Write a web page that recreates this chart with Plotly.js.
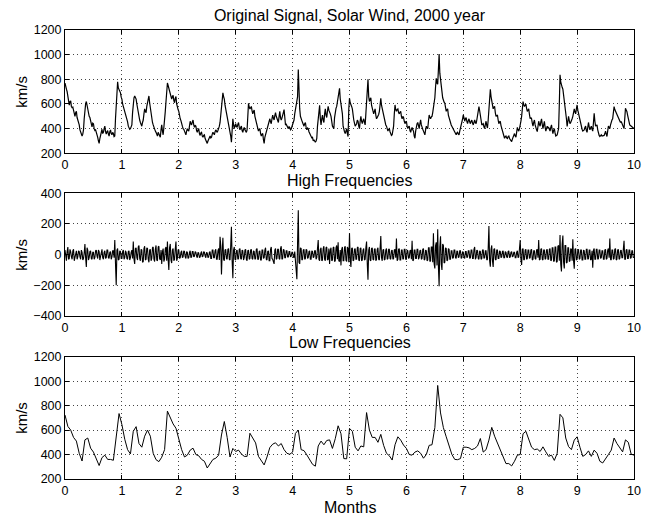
<!DOCTYPE html>
<html><head><meta charset="utf-8">
<script src="https://cdn.plot.ly/plotly-3.0.1.min.js"></script>
<style>html,body{margin:0;padding:0;background:#fff;}#chart{width:667px;height:520px;}</style>
</head><body><div id="chart"></div>
<script>
// ---- data (months on x, km/s on y) ----
const startMonth = 0;
const originalStep = 0.0125;   // months between samples
const originalValues = [
770,730,720,700,660,610,590,620,625,580,570,575,555,520,500,530,540,490,470,460,
430,390,375,365,340,355,390,480,560,600,620,580,560,520,500,490,470,430,415,445,
440,400,385,390,375,345,330,300,280,320,350,380,395,360,370,400,420,375,355,375,
385,355,340,375,390,360,350,370,360,335,340,480,620,740,780,730,720,700,690,655,
640,600,580,570,545,510,490,480,455,420,410,395,400,410,430,530,610,650,665,650,
640,600,560,540,510,470,450,440,420,450,470,520,560,540,530,580,620,650,665,610,
570,500,470,450,430,405,390,380,370,350,340,370,360,345,330,390,430,380,350,410,
460,540,620,720,770,750,730,700,690,660,640,660,670,630,610,645,660,600,560,555,
540,500,480,465,450,420,400,395,380,365,350,380,400,385,380,420,460,440,430,455,
470,430,410,425,420,385,370,390,400,360,345,365,370,340,330,345,350,320,300,290,
280,300,310,330,340,325,330,355,370,360,350,375,390,380,370,385,400,420,450,520,
590,650,690,660,640,590,560,545,520,470,430,420,400,340,290,420,480,430,400,425,
440,420,410,435,450,410,390,410,420,385,370,395,410,390,380,370,390,520,605,575,
560,570,580,545,520,540,550,500,480,450,430,400,380,395,400,360,340,355,360,310,
280,330,350,380,400,420,440,470,480,455,440,480,510,485,470,505,530,500,480,465,
450,500,540,490,470,485,500,530,555,470,430,435,420,410,400,415,410,390,395,415,
430,455,470,520,560,590,600,660,880,620,560,500,470,465,450,430,420,440,450,410,
390,405,400,375,360,350,340,325,330,300,310,295,290,300,320,420,480,560,590,480,
430,480,510,470,450,520,560,510,490,540,580,550,540,520,500,450,420,410,400,490,
540,565,580,620,660,700,727,640,600,560,520,420,380,375,360,385,400,360,336,560,
646,610,600,580,560,500,470,445,420,430,440,470,460,420,400,460,500,460,440,465,
480,450,430,520,600,700,800,660,620,640,650,590,560,540,520,540,560,510,480,490,
500,515,540,600,646,590,560,520,500,465,440,430,420,395,380,395,400,375,360,345,
350,380,420,520,592,555,540,555,560,530,520,535,540,500,480,500,490,460,440,455,
460,420,400,415,420,385,370,395,410,390,380,340,322,380,420,440,450,415,400,440,
471,430,400,395,380,360,350,390,420,405,400,460,511,490,480,495,500,530,560,600,
650,740,808,770,760,880,1005,850,781,730,700,650,620,615,606,560,540,555,560,510,
480,465,450,430,420,400,390,385,380,360,350,365,370,355,350,380,400,420,440,480,
511,480,460,480,490,460,440,465,480,455,440,460,470,445,430,450,470,450,440,470,
500,540,579,545,520,470,430,440,440,415,400,435,460,425,405,470,540,640,719,660,
620,585,560,575,580,530,500,505,510,470,440,455,460,425,400,380,360,335,322,335,
340,325,320,335,340,320,310,300,295,315,330,350,360,340,330,370,410,390,380,400,
420,460,500,570,619,595,580,590,600,565,540,550,560,515,480,490,480,445,420,450,
470,430,400,390,376,420,460,435,420,455,480,435,400,430,460,415,380,400,420,405,
410,395,380,410,430,390,360,385,400,365,341,345,350,375,400,600,836,780,741,735,
720,680,640,600,560,480,417,460,500,465,440,450,460,480,500,530,560,535,520,560,
592,550,520,500,470,440,420,395,380,385,390,410,420,385,370,410,450,415,390,405,
420,395,380,450,525,460,420,425,430,390,360,345,336,345,350,340,340,340,345,360,
380,355,336,380,420,410,400,430,460,470,480,530,579,555,540,525,510,495,480,465,
450,450,458,440,420,410,400,480,565,550,540,510,480,455,430,425,420,410,403,400,
400];

const highStep = 0.0125;
const highValues = [
30,-10,-40,20,50,-30,-25,35,20,-15,-30,25,35,-40,-20,15,25,-30,-15,25,
20,-15,-30,30,15,-35,-25,10,70,-20,-80,45,30,-35,-20,20,25,-25,-30,15,
15,-30,-20,25,30,-10,-25,30,20,-35,-15,20,35,-20,-30,15,25,-25,-20,30,
30,-20,-25,15,20,-30,-15,25,25,-20,95,-60,-200,30,40,-35,-30,25,20,-25,
-25,20,30,-30,-20,25,15,-25,-30,20,25,-35,-20,15,30,-25,85,-30,-60,40,
45,-20,-35,50,60,-25,-40,35,30,-50,-45,40,55,-35,-30,45,40,-30,-50,30,
35,-40,-25,45,50,-30,-45,35,60,-35,-40,50,55,-25,-35,30,-60,20,40,-45,
-30,40,50,-40,85,-30,-100,45,70,-35,-55,30,40,-40,-30,35,85,-40,-25,30,
30,-25,-20,15,25,-20,-15,25,20,-15,-25,20,15,-25,-20,15,25,-20,-15,20,
20,-15,-10,20,15,-10,-20,15,10,-20,-15,10,20,-15,-10,20,15,-10,-20,15,
10,-20,-15,15,20,-25,-25,30,30,-20,-20,25,35,-30,-30,25,40,-35,117,60,
-130,20,110,-30,-40,30,35,-25,-30,35,40,-30,-35,60,182,-40,-154,30,50,-30,
-35,25,30,-30,-25,35,40,-25,-30,30,25,-35,-20,30,35,-30,-40,25,30,-30,
-25,30,35,-25,-30,25,20,-30,-25,35,40,-30,-30,20,25,-35,-35,30,30,-25,
-20,30,45,-30,-35,20,25,-40,-40,35,50,-25,-30,-45,-60,30,40,-30,-25,35,
35,-25,-30,40,55,-30,-25,35,30,-20,-20,25,25,-15,-15,20,20,-15,-10,15,
15,-15,-20,20,-40,-60,-160,80,290,-50,-60,45,40,-35,-30,30,35,-30,-25,35,
30,-25,-20,20,25,-30,-30,25,20,-20,-15,25,25,-30,-20,40,95,-30,-40,35,
45,-40,-35,40,55,-30,-40,45,50,-35,-30,40,-60,30,45,-40,-35,45,50,-45,
-40,45,60,-30,80,-40,-45,30,-70,35,50,-40,-40,45,55,-35,-45,50,40,-50,
140,-30,-80,40,45,-40,-35,35,40,-30,-30,45,50,-35,-40,40,45,-40,-35,30,
40,-35,-30,45,85,-60,-163,30,50,-35,-40,40,45,-30,-35,35,40,-40,-30,35,
45,-30,-35,40,122,-20,-40,30,35,-35,-30,30,40,-30,-25,35,35,-25,-30,25,
30,-30,-25,30,35,-20,106,-40,-30,35,40,-35,-35,30,30,-30,-25,35,35,-30,
-30,30,25,-25,-20,25,30,-30,91,-40,-35,30,30,-25,-25,35,35,-30,-20,25,
30,-30,-25,35,40,-35,-30,30,25,-40,-35,45,45,-45,-40,50,50,-50,140,-60,
-90,60,80,-70,165,-80,-206,50,120,-60,-100,70,60,-55,-50,45,40,-40,-35,40,
35,-30,-30,25,25,-25,-20,30,30,-20,-25,25,20,-20,-15,25,25,-25,-20,20,
15,-20,-25,20,20,-20,-15,25,25,-25,-20,30,30,-25,-25,35,50,-30,-20,30,
25,-25,-30,25,20,-30,-25,30,30,-25,-20,25,25,-35,-30,40,187,-40,-78,35,
60,-40,-80,35,40,-30,-35,30,30,-25,-25,25,20,-20,-15,20,25,-20,-20,20,
15,-15,-20,20,25,-20,-15,15,20,-15,-10,15,15,-20,-20,15,25,-20,-15,40,
95,-30,-67,35,40,-35,-30,30,35,-30,-25,30,30,-25,-20,30,35,-35,-30,25,
25,-25,-30,30,35,-20,95,-35,-30,35,40,-30,-35,30,30,-30,-25,30,35,-30,
-30,35,40,-40,-35,45,45,-45,-40,50,50,-50,-45,55,60,-40,128,-60,-110,70,
125,-50,-90,60,60,-55,-50,45,45,-45,-40,40,35,-40,100,-40,-91,35,40,-35,
-30,30,35,-30,-25,30,30,-35,-35,30,25,-30,-30,35,35,-30,-25,30,30,-35,
-30,25,-85,30,40,-30,-30,35,35,-30,-25,30,30,-25,-20,25,25,-30,-30,30,
35,-30,-25,30,40,-20,106,-30,-35,30,30,-30,-25,35,40,-35,-30,30,35,-30,
-25,25,30,-20,-20,35,91,-30,-30,30,35,-25,-25,30,30,-25,-20,25,25,-20,
-15];

const lowStep = 0.05;
const lowValues = [
723,630,600,540,510,410,347,520,535,452,
420,360,310,375,395,360,360,353,570,735,
645,525,440,405,590,628,490,460,550,600,
550,410,358,342,378,440,755,705,650,615,
530,440,380,395,436,452,400,390,360,345,
290,326,360,370,395,560,670,540,380,450,
425,436,405,385,385,574,535,495,385,350,
315,380,457,485,496,470,490,440,410,402,
420,573,600,440,432,397,362,320,305,470,
510,480,515,520,450,530,635,570,367,365,
614,590,460,430,470,463,743,600,540,540,
500,565,475,410,390,355,480,545,518,477,
450,400,395,420,430,410,370,400,475,480,
620,965,740,620,545,470,400,360,358,367,
460,460,455,440,450,470,531,420,440,518,
622,550,490,430,375,326,326,307,345,395,
400,570,590,525,460,440,445,425,463,422,
385,395,352,410,729,700,535,465,440,518,
545,460,385,400,430,385,436,410,345,331,
362,400,436,535,490,450,422,520,500,403,
395];

const mainTitle = 'Original Signal, Solar Wind, 2000 year';
const panelTitles = ['High Frequencies', 'Low Frequencies'];
const xLabel = 'Months';
const yLabel = 'km/s';
const monthRange = [0, 10];
const speedRange = [200, 1200];
const highRange = [-400, 400];

// ---- chart ----
const font = 'Liberation Sans, Arial, Helvetica, sans-serif';

const traces = [
  {type: 'scatter', mode: 'lines', x0: startMonth, dx: originalStep, y: originalValues, xaxis: 'x', yaxis: 'y', line: {color: '#000', width: 1.2}, hoverinfo: 'skip'},
  {type: 'scatter', mode: 'lines', x0: startMonth, dx: highStep, y: highValues, xaxis: 'x2', yaxis: 'y2', line: {color: '#000', width: 1.1}, hoverinfo: 'skip'},
  {type: 'scatter', mode: 'lines', x0: startMonth, dx: lowStep, y: lowValues, xaxis: 'x3', yaxis: 'y3', line: {color: '#000', width: 1}, hoverinfo: 'skip'}
];

function ax(extra) {
  return Object.assign({
    showline: true, linecolor: '#000', linewidth: 1, mirror: 'ticks',
    ticks: 'inside', ticklen: 4, tickcolor: '#000', tickwidth: 1,
    showgrid: true, gridcolor: '#444', griddash: '1px,3px', gridwidth: 1,
    zeroline: false, tickfont: {family: font, size: 12.5, color: '#000'},
    fixedrange: true
  }, extra);
}

const dTop = [0.7254, 1], dMid = [0.363, 0.6363], dBot = [0, 0.2724];

const layout = {
  width: 667, height: 520,
  margin: {l: 65, r: 33, t: 30, b: 41},
  paper_bgcolor: '#fff', plot_bgcolor: '#fff',
  showlegend: false,
  font: {family: font, color: '#000'},
  title: {text: mainTitle, font: {family: font, size: 16, color: '#000'}, x: 0.5, xref: 'paper', xanchor: 'center', y: 1 - 15/520, yref: 'container', yanchor: 'middle'},
  xaxis: ax({range: monthRange, dtick: 1, tick0: 0, anchor: 'y', domain: [0, 1]}),
  yaxis: ax({range: speedRange, dtick: 200, anchor: 'x', domain: dTop}),
  xaxis2: ax({range: monthRange, dtick: 1, tick0: 0, anchor: 'y2', domain: [0, 1]}),
  yaxis2: ax({range: highRange, dtick: 200, anchor: 'x2', domain: dMid}),
  xaxis3: ax({range: monthRange, dtick: 1, tick0: 0, anchor: 'y3', domain: [0, 1]}),
  yaxis3: ax({range: speedRange, dtick: 200, anchor: 'x3', domain: dBot}),
  annotations: [
    {text: panelTitles[0], xref: 'paper', yref: 'paper', x: 0.5, y: 0.6648, xanchor: 'center', yanchor: 'middle', showarrow: false, font: {family: font, size: 16, color: '#000'}},
    {text: panelTitles[1], xref: 'paper', yref: 'paper', x: 0.5, y: 0.3029, xanchor: 'center', yanchor: 'middle', showarrow: false, font: {family: font, size: 16, color: '#000'}},
    {text: xLabel, xref: 'paper', yref: 'paper', x: 0.5, y: -0.0624, xanchor: 'center', yanchor: 'middle', showarrow: false, font: {family: font, size: 16, color: '#000'}},
    {text: yLabel, xref: 'paper', yref: 'paper', x: -0.0756, y: (dTop[0]+dTop[1])/2, xanchor: 'center', yanchor: 'middle', textangle: -90, showarrow: false, font: {family: font, size: 15, color: '#000'}},
    {text: yLabel, xref: 'paper', yref: 'paper', x: -0.0756, y: (dMid[0]+dMid[1])/2, xanchor: 'center', yanchor: 'middle', textangle: -90, showarrow: false, font: {family: font, size: 15, color: '#000'}},
    {text: yLabel, xref: 'paper', yref: 'paper', x: -0.0756, y: (dBot[0]+dBot[1])/2, xanchor: 'center', yanchor: 'middle', textangle: -90, showarrow: false, font: {family: font, size: 15, color: '#000'}}
  ]
};

Plotly.newPlot('chart', traces, layout, {displayModeBar: false, staticPlot: true});
</script>
</body></html>
